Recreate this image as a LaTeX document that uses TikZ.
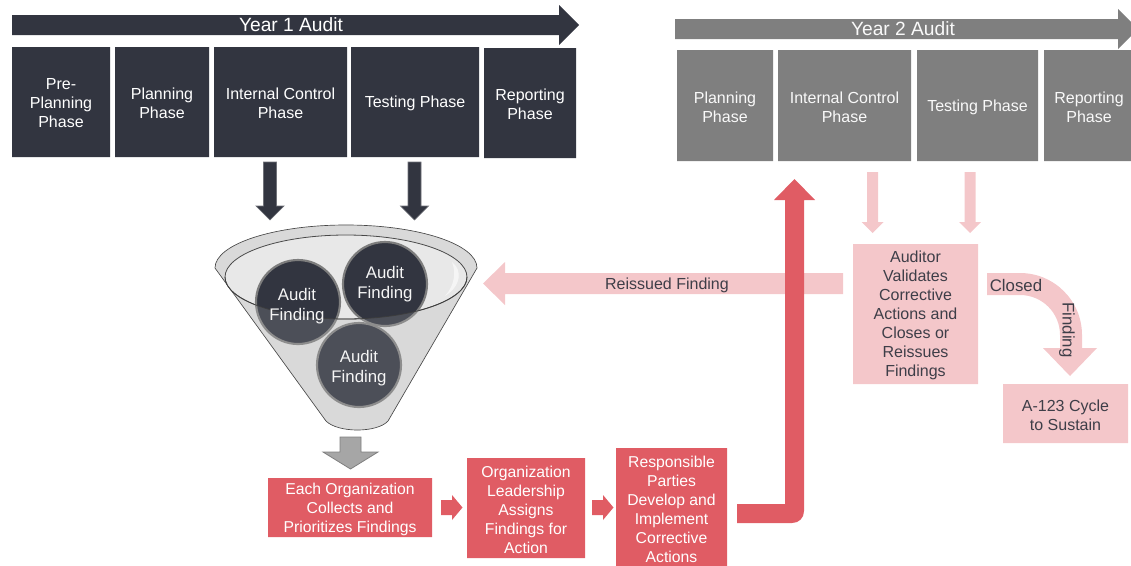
\documentclass[tikz,border=0pt]{standalone}
\usepackage{fontspec}
\setmainfont{Liberation Sans}
\definecolor{dk}{RGB}{50,53,64}
\definecolor{gy}{RGB}{127,127,127}
\definecolor{rd}{RGB}{224,92,100}
\definecolor{pk}{RGB}{244,199,202}
\definecolor{pktext}{RGB}{62,62,72}
\definecolor{fnl}{RGB}{212,212,212}
\definecolor{fnlin}{RGB}{232,232,232}
\definecolor{fnledge}{RGB}{60,60,60}
\definecolor{ring}{RGB}{125,125,125}
\definecolor{arrgray}{RGB}{166,166,166}
\begin{document}
\begin{tikzpicture}[x=0.75pt,y=-0.75pt,
  box/.style={inner sep=0pt, outer sep=0pt, align=center},
  sz/.style 2 args={minimum width=#1*0.75pt, minimum height=#2*0.75pt},
  txtdown/.style={text depth=0pt},
  phaseA/.style={box, fill=dk, text=white, font=\fontsize{12}{14.25}\selectfont},
  phaseB/.style={box, fill=gy, text=white!95!gray, font=\fontsize{12}{14.25}\selectfont},
  redbox/.style={box, fill=rd, text=white, font=\fontsize{11.8}{14.25}\selectfont},
  pinkbox/.style={box, fill=pk, text=pktext, font=\fontsize{12}{14.25}\selectfont},
  finding/.style={circle, minimum size=63pt, inner sep=0pt, fill=dk, draw=ring, line width=1.6pt},
  ftext/.style={align=center, text=white!92!gray, font=\fontsize{12.6}{15}\selectfont},
  titletext/.style={text=white, font=\fontsize{14.4}{16}\selectfont},
  lbl/.style={text=pktext, font=\fontsize{12}{14}\selectfont},
  darkarrow/.style={fill=dk, draw=dk!70!white, line width=0.5pt},
  pinkarrow/.style={fill=pk},
  redarrow/.style={fill=rd}
]
\useasboundingbox (0,0) rectangle (1131,565);

% ---------------- Year 1 ----------------
\fill[dk] (12,15) -- (559,15) -- (559,5) -- (579,25) -- (559,45) -- (559,35) -- (12,35) -- cycle;
\node[titletext] (y1title) at (291,25) {Year 1 Audit};
\fill[dk] (12,47) rectangle (110,157) (115,47) rectangle (209,157) (214,47) rectangle (347,157)
  (351,47) rectangle (479,157) (484,48) rectangle (576,158);
\node[phaseA, fill=none] (a1) at (61,103.5) {Pre-\\Planning\\Phase};
\node[phaseA, fill=none] (a2) at (162,103.5) {Planning\\Phase};
\node[phaseA, fill=none] (a3) at (280.5,103.5) {Internal Control\\Phase};
\node[phaseA, fill=none] (a4) at (415,103.5) {Testing Phase};
\node[phaseA, fill=none] (a5) at (530,104.5) {Reporting\\Phase};

% ---------------- Year 2 ----------------
\fill[gy] (675,19) -- (1118,19) -- (1118,9) -- (1138,29) -- (1118,49) -- (1118,39) -- (675,39) -- cycle;
\node[titletext, text=white!95!gray] (y2title) at (903,29) {Year 2 Audit};
\fill[gy] (677,50) rectangle (773,161) (778,50) rectangle (911,161) (917,50) rectangle (1038,161) (1044,50) rectangle (1134,161);
\node[phaseB, fill=none] (b1) at (725,107) {Planning\\Phase};
\node[phaseB, fill=none] (b2) at (844.5,107) {Internal Control\\Phase};
\node[phaseB, fill=none] (b3) at (977.5,107) {Testing Phase};
\node[phaseB, fill=none] (b4) at (1089,107) {Reporting\\Phase};

% ---------------- dark arrows into funnel ----------------
\path[darkarrow] (263.5,162) -- (276.5,162) -- (276.5,206) -- (284,206) -- (270,220) -- (256,206) -- (263.5,206) -- cycle;
\path[darkarrow] (408,162) -- (421,162) -- (421,206) -- (428.5,206) -- (414.5,220) -- (400.5,206) -- (408,206) -- cycle;

% ---------------- funnel ----------------
\draw[fill=fnl, draw=fnledge, line width=0.5pt]
  (215,268) .. controls (215,244.25) and (273.65,225) .. (346,225)
  .. controls (418.35,225) and (477,244.25) .. (477,268)
  -- (388,421) .. controls (377,433) and (338,433) .. (326,421) -- cycle;
\draw[fill=fnlin, draw=fnledge, line width=0.6pt] (346,277) ellipse [x radius=90.75pt, y radius=31.5pt];
\fill[white, fill opacity=0.6] (452,262) .. controls (462,270) and (462,285) .. (445,296) .. controls (455,285) and (456,272) .. (452,262) -- cycle;

\node[finding] (f1) at (298,302) {};
\node[finding] (f2) at (385,284) {};
\node[finding] (f3) at (359,365) {};

% translucent front of the funnel over the findings
\fill[white, fill opacity=0.13, even odd rule]
  (215,268) .. controls (215,244.25) and (273.65,225) .. (346,225)
  .. controls (418.35,225) and (477,244.25) .. (477,268)
  -- (388,421) .. controls (377,433) and (338,433) .. (326,421) -- cycle
  (346,277) ellipse [x radius=90.75pt, y radius=31.5pt];
\draw[fnledge, draw opacity=0.85, line width=0.6pt]
  (225,277) .. controls (225,300.2) and (279.2,319) .. (346,319)
  .. controls (412.8,319) and (467,300.2) .. (467,277);

\node[ftext] (f1t) at (297,306.5) {Audit\\Finding};
\node[ftext] (f2t) at (385,284.5) {Audit\\Finding};
\node[ftext] (f3t) at (359,368.5) {Audit\\Finding};

% gray arrow below funnel
\path[fill=arrgray, draw=gy, line width=0.6pt] (340,437) -- (361,437) -- (361,452) -- (378,452) -- (350.5,469) -- (323,452) -- (340,452) -- cycle;

% ---------------- bottom red process ----------------
\fill[rd] (268,478) rectangle (432,537) (467,458) rectangle (585,558) (616,448) rectangle (727,567);
\node[redbox, fill=none] (r1) at (350,509.5) {Each Organization\\Collects and\\Prioritizes Findings};
\node[redbox, fill=none] (r2) at (526,510) {Organization\\Leadership\\Assigns\\Findings for\\Action};
\node[redbox, fill=none] (r3) at (671.5,509.5) {Responsible\\Parties\\Develop and\\Implement\\Corrective\\Actions};
\path[redarrow] (441,500) -- (452,500) -- (452,495) -- (462.5,507.5) -- (452,520) -- (452,515) -- (441,515) -- cycle;
\path[redarrow] (592,500) -- (603,500) -- (603,495) -- (613.5,507.5) -- (603,520) -- (603,515) -- (592,515) -- cycle;

% ---------------- reissued finding arrow ----------------
\path[pinkarrow] (843,273) -- (505,273) -- (505,262) -- (483,283.5) -- (505,305) -- (505,294) -- (843,294) -- cycle;
\node[lbl] (reiss) at (667,285) {Reissued Finding};

% ---------------- red L-shaped arrow up to Year 2 ----------------
\path[redarrow] (737,504) -- (785,504) -- (785,200) -- (774,200) -- (794.5,179) -- (815,200) -- (804,200) -- (804,511)
  .. controls (804,518) and (799,523) .. (792,523) -- (737,523) -- cycle;

% ---------------- Year 2 validation ----------------
\path[pinkarrow] (867,172) -- (878,172) -- (878,222) -- (883.5,222) -- (872.5,233) -- (861.5,222) -- (867,222) -- cycle;
\path[pinkarrow] (964.5,172) -- (975.5,172) -- (975.5,222) -- (981,222) -- (970,233) -- (959,222) -- (964.5,222) -- cycle;
\fill[pk] (853,244) rectangle (978,384) (1003,384) rectangle (1128,443);
\node[pinkbox, fill=none] (aud) at (915.5,315.5) {Auditor\\Validates\\Corrective\\Actions and\\Closes or\\Reissues\\Findings};

\path[pinkarrow] (987,273) -- (1020,273) .. controls (1054.2,273) and (1082,300.8) .. (1082,335)
  -- (1082,348) -- (1097,348) -- (1070,376) -- (1043,348) -- (1060,348) -- (1060,335)
  .. controls (1060,312.9) and (1042.1,295) .. (1020,295) -- (987,295) -- cycle;
\node[lbl, font=\fontsize{12.6}{14}\selectfont] (closed) at (1016,285) {Closed};
\node[lbl, font=\fontsize{12.6}{14}\selectfont, rotate=-90] (findlbl) at (1067,330) {Finding};

\node[pinkbox, fill=none] (a123) at (1065.5,415) {A-123 Cycle\\to Sustain};
\end{tikzpicture}
\end{document}
